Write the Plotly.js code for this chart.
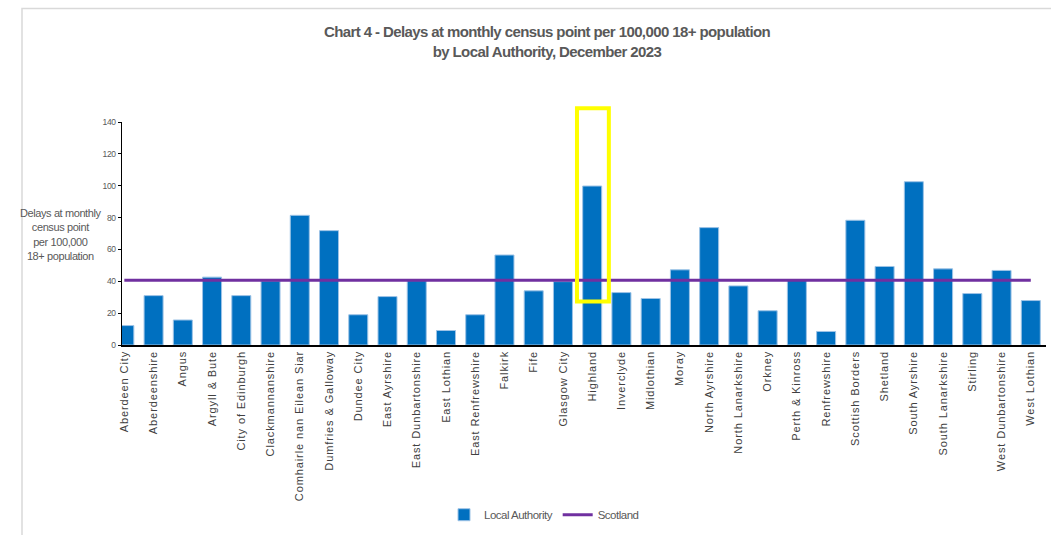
<!DOCTYPE html>
<html>
<head>
<meta charset="utf-8">
<script src="https://cdn.plot.ly/plotly-3.0.1.min.js"></script>
<style>
  html, body { margin: 0; padding: 0; background: #fff; }
  #chart { width: 1051px; height: 535px; }
  .xtick text { letter-spacing: 0.9px; }
  .gtitle { letter-spacing: -0.6px; }
  .annotation-text { letter-spacing: -0.4px; }
  .legendtext { letter-spacing: -0.5px; }
  .ytick text { letter-spacing: -0.3px; }
</style>
</head>
<body>
<div id="chart"></div>
<script>
const categories = [
  "Aberdeen City", "Aberdeenshire", "Angus", "Argyll & Bute", "City of Edinburgh",
  "Clackmannanshire", "Comhairle nan Eilean Siar", "Dumfries & Galloway", "Dundee City",
  "East Ayrshire", "East Dunbartonshire", "East Lothian", "East Renfrewshire", "Falkirk",
  "Fife", "Glasgow City", "Highland", "Inverclyde", "Midlothian", "Moray", "North Ayrshire",
  "North Lanarkshire", "Orkney", "Perth & Kinross", "Renfrewshire", "Scottish Borders",
  "Shetland", "South Ayrshire", "South Lanarkshire", "Stirling", "West Dunbartonshire",
  "West Lothian"
];
const localAuthorityRates = [
  12.2, 31.0, 15.7, 42.6, 31.0,
  40.2, 81.4, 71.8, 19.0,
  30.4, 40.4, 9.1, 19.0, 56.5,
  34.0, 39.8, 99.8, 32.9, 29.2, 47.2, 73.7,
  37.1, 21.5, 40.6, 8.5, 78.3,
  49.3, 102.5, 47.8, 32.3, 46.8,
  27.9
];
const scotlandRate = 40.6;
const scotlandLine = categories.map(() => scotlandRate);
const yTicks = [0, 20, 40, 60, 80, 100, 120, 140];
const highlighted = "Highland";

const xRange = [-0.08, 31.52];
const hiIdx = categories.indexOf(highlighted);
const toPaperX = v => (v - xRange[0]) / (xRange[1] - xRange[0]);

const gray = "#595959";
const sans = "Liberation Sans, Arial, sans-serif";

const traces = [
  {
    type: "bar",
    name: "Local Authority",
    x: categories,
    y: localAuthorityRates,
    marker: { color: "#0070C0", line: { color: "#9DC3E6", width: 1 } },
    hoverinfo: "x+y"
  },
  {
    type: "scatter",
    mode: "lines",
    name: "Scotland",
    x: categories,
    y: scotlandLine,
    line: { color: "#7030A0", width: 3 },
    hoverinfo: "y"
  }
];

const L = 122, R = 5, T = 122, B = 187;
const W = 1051, H = 535;
const pw = W - L - R, ph = H - T - B;
const pxX = p => (p - L) / pw;
const pxY = p => (H - B - p) / ph;

const layout = {
  width: W,
  height: H,
  margin: { l: L, r: R, t: T, b: B, pad: 0 },
  paper_bgcolor: "#ffffff",
  plot_bgcolor: "#ffffff",
  bargap: 0.35,
  showlegend: true,
  title: {
    text: "<b>Chart 4 - Delays at monthly census point per 100,000 18+ population</b><br><b>by Local Authority, December 2023</b>",
    font: { family: sans, size: 15, color: gray },
    x: 547 / W,
    xanchor: "center",
    y: 1 - 37 / H,
    yanchor: "middle"
  },
  xaxis: {
    type: "category",
    range: xRange,
    showline: true,
    linecolor: "#000000",
    linewidth: 1.5,
    ticks: "",
    tickangle: -90,
    tickfont: { family: sans, size: 11, color: "#404040" },
    showgrid: false,
    zeroline: false,
    fixedrange: true
  },
  yaxis: {
    range: [0, 140],
    tickvals: yTicks,
    ticktext: yTicks.map(String),
    showline: true,
    linecolor: "#000000",
    linewidth: 1.5,
    ticks: "outside",
    ticklen: 3,
    tickcolor: "#000000",
    tickfont: { family: sans, size: 8.5, color: gray },
    showgrid: false,
    zeroline: false,
    fixedrange: true
  },
  legend: {
    orientation: "h",
    x: pxX(544),
    xanchor: "center",
    y: pxY(520),
    yanchor: "middle",
    font: { family: sans, size: 11.5, color: gray },
    itemwidth: 30
  },
  annotations: [
    {
      xref: "paper", yref: "paper",
      x: pxX(61), y: pxY(236),
      xanchor: "center", yanchor: "middle",
      showarrow: false,
      align: "center",
      text: "Delays at monthly<br>census point<br>per 100,000<br>18+ population",
      font: { family: sans, size: 11, color: gray }
    }
  ],
  shapes: [
    {
      type: "rect", xref: "paper", yref: "paper",
      x0: pxX(22), x1: pxX(1070), y0: pxY(560), y1: pxY(7),
      line: { color: "#D9D9D9", width: 1.5 },
      fillcolor: "rgba(0,0,0,0)",
      layer: "below"
    },
    {
      type: "rect", xref: "paper", yref: "paper",
      x0: toPaperX(hiIdx - 0.52), x1: toPaperX(hiIdx + 0.57),
      y0: 27.3 / 140, y1: pxY(108),
      line: { color: "#FFFF00", width: 4 },
      fillcolor: "rgba(0,0,0,0)",
      layer: "above"
    }
  ]
};

Plotly.newPlot("chart", traces, layout, { displayModeBar: false, staticPlot: true });
</script>
</body>
</html>
